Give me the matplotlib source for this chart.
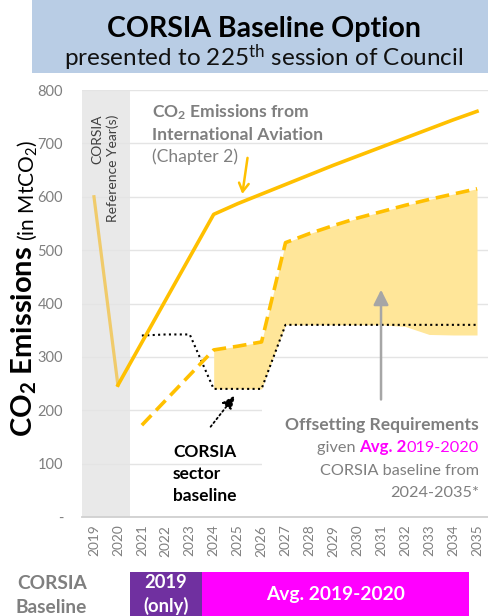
import matplotlib
matplotlib.use('Agg')
import matplotlib.pyplot as plt
from matplotlib.patches import Rectangle

plt.rcParams['font.family'] = ['Lato', 'DejaVu Sans']
plt.rcParams['mathtext.fontset'] = 'custom'
plt.rcParams['mathtext.rm'] = 'Lato'
plt.rcParams['mathtext.it'] = 'Lato:italic'
plt.rcParams['mathtext.bf'] = 'Lato:bold'

# ---------------- data ----------------
years = list(range(2019, 2036))
year_labels = [str(y) for y in years]
y_ticks = [0, 100, 200, 300, 400, 500, 600, 700, 800]
y_tick_labels = ['-', '100', '200', '300', '400', '500', '600', '700', '800']

ref_years = [2019, 2020]
ref_co2 = [600, 247]

aviation_years = [2020, 2024, 2025, 2026, 2027, 2028, 2029, 2030, 2031, 2032, 2033, 2034, 2035]
aviation_co2 = [247, 567, 587, 605, 623, 641, 659, 676, 693, 710, 727, 744, 760]

offset_years = [2021, 2024, 2025, 2026, 2027, 2028, 2029, 2030, 2031, 2032, 2033, 2034, 2035]
offset_co2 = [172, 313, 320, 328, 514, 531, 546, 560, 572, 584, 595, 605, 615]

sector_years = [2021, 2022, 2023, 2024, 2025, 2026, 2027, 2028, 2029, 2030, 2031, 2032, 2033, 2034, 2035]
sector_co2 = [340, 342, 342, 240, 240, 240, 360, 360, 360, 360, 360, 360, 360, 360, 360]

fill_years = [2024, 2025, 2026, 2027, 2028, 2029, 2030, 2031, 2032, 2033, 2034, 2035]
fill_upper = offset_co2[1:]
fill_lower = [240, 240, 240, 360, 360, 360, 360, 360, 357, 342, 341, 341]

band_spans = [(2020.5, 2023.5), (2023.5, 2034.65)]
band_colors = ['#7030A0', '#FF00FF']

# ---------------- figure ----------------
W, H = 489, 616
fig = plt.figure(figsize=(W / 100, H / 100), dpi=100)


def fx(px):
    return px / W


def fy(py):
    return 1 - py / H


GOLD = '#FFC000'
GRAY = '#7F7F7F'
MAG = '#FF00FF'

# title box
fig.patches.append(Rectangle((fx(32), fy(73)), fx(497) - fx(32), 73 / H,
                             transform=fig.transFigure, facecolor='#B9CDE5',
                             edgecolor='none', zorder=0))
fig.text(fx(264), fy(37), 'CORSIA Baseline Option', ha='center', va='baseline',
         fontsize=20.5, fontweight='bold', color='black')
fig.text(fx(264), fy(66), r'presented to 225$^{\mathrm{th}}$ session of Council',
         ha='center', va='baseline', fontsize=17.5, color='#111111')

# main axes
ax = fig.add_axes([fx(82), fy(517), fx(489) - fx(82), 427 / H])
ax.set_xlim(2018.5, 2035.5)
ax.set_ylim(0, 800)
ax.axvspan(2018.5, 2020.5, color='#E9E9E9', lw=0, zorder=0)
ax.set_axisbelow(True)
ax.yaxis.grid(True, color='#E4E4E4', lw=1.0)
ax.set_yticks(y_ticks)
ax.set_yticklabels(y_tick_labels)
ax.set_xticks(years)
ax.set_xticklabels(year_labels, rotation=90)
ax.tick_params(axis='y', length=0, pad=13.5, labelsize=10.5, labelcolor=GRAY)
ax.tick_params(axis='x', length=0, pad=5.5, labelsize=9.8, labelcolor=GRAY)
for s in ['top', 'right', 'left']:
    ax.spines[s].set_visible(False)
ax.spines['bottom'].set_color('#D0D0D0')
ax.spines['bottom'].set_linewidth(1.3)

# white area behind the offsetting text
ax.add_patch(Rectangle((2026.02, 6), 9.5, 208, facecolor='white', edgecolor='none', zorder=1))

ax.fill_between(fill_years, fill_lower, fill_upper, color='#FFE699', lw=0, zorder=2)
ax.plot(sector_years, sector_co2, color='black', lw=1.5, ls=(0, (1, 1.6)), zorder=3)
ax.plot(offset_years, offset_co2, color=GOLD, lw=2.6, ls=(0, (3.8, 1.9)), zorder=4)
ax.plot(ref_years, ref_co2, color='#F0CB6B', lw=2.3, zorder=4)
ax.plot(aviation_years, aviation_co2, color=GOLD, lw=2.6, zorder=5)

# arrows
ax.annotate('', xy=(2025.18, 600), xytext=(2025.43, 678),
            arrowprops=dict(arrowstyle='->,head_length=0.6,head_width=0.35',
                            color=GOLD, lw=1.8), zorder=6)
ax.annotate('', xy=(2024.97, 232), xytext=(2023.80, 165),
            arrowprops=dict(arrowstyle='-|>,head_length=0.8,head_width=0.35',
                            color='black', lw=1.3, ls=':'), zorder=6)
ax.annotate('', xy=(2030.99, 431), xytext=(2030.99, 215),
            arrowprops=dict(arrowstyle='-|>,head_length=0.9,head_width=0.45',
                            color='#A6A6A6', lw=1.8), zorder=6)

# reference year text
ax.text(2019.15, 754, 'CORSIA', rotation=90, ha='center', va='top', fontsize=10, color='#404040')
ax.text(2019.78, 754, 'Reference Year(s)', rotation=90, ha='center', va='top', fontsize=10,
        color='#404040')

# annotation: aviation emissions
fig.text(fx(152), fy(117), r'CO$_\mathbf{2}$ Emissions from', fontsize=12.6, fontweight='bold',
         color=GRAY, va='baseline', ha='left')
fig.text(fx(152), fy(140), 'International Aviation', fontsize=12.6, fontweight='bold',
         color=GRAY, va='baseline', ha='left')
fig.text(fx(152), fy(162), '(Chapter 2)', fontsize=12.6, color=GRAY, va='baseline', ha='left')

# annotation: sector baseline
for txt, by in zip(['CORSIA', 'sector', 'baseline'], [457, 479, 501]):
    fig.text(fx(173), fy(by), txt, fontsize=12.5, fontweight='bold', color='black',
             va='baseline', ha='left')

# annotation: offsetting
fig.text(fx(479), fy(430), 'Offsetting Requirements', fontsize=12.6, fontweight='bold',
         color=GRAY, ha='right', va='baseline')
t_c = fig.text(fx(479), fy(452), '019-2020', fontsize=11.7, color=MAG, ha='right', va='baseline')
t_b = ax.annotate('Avg. 2', xy=(0, 0), xycoords=t_c, fontsize=12.2, fontweight='bold', color=MAG,
                  ha='right', va='bottom')
ax.annotate('given ', xy=(0, 0), xycoords=t_b, fontsize=11.7, color=GRAY, ha='right', va='bottom')
fig.text(fx(479), fy(475), 'CORSIA baseline from', fontsize=11.7, color=GRAY, ha='right', va='baseline')
fig.text(fx(479), fy(497), '2024-2035*', fontsize=11.7, color=GRAY, ha='right', va='baseline')

# y label
t1 = fig.text(fx(39), fy(437), r'CO$_\mathbf{2}$ Emissions', rotation=90, ha='right', va='bottom',
              fontsize=21, fontweight='bold', color='black')
ax.annotate(r' (in MtCO$_2$)', xy=(1, 1), xycoords=t1, rotation=90, ha='right', va='bottom',
            fontsize=15, color='black')

# bottom band
bax = fig.add_axes([fx(82), 0, fx(489) - fx(82), 44 / H])
bax.set_xlim(2018.5, 2035.5)
bax.set_ylim(0, 1)
bax.axis('off')
for (x0, x1), c in zip(band_spans, band_colors):
    bax.add_patch(Rectangle((x0, 0), x1 - x0, 1, facecolor=c, edgecolor='none'))
(p0, p1), (m0, m1) = band_spans
bax.text((p0 + p1) / 2, fy(588) * H / 44, '2019', ha='center', va='baseline', color='white',
         fontsize=13.2, fontweight='bold')
bax.text((p0 + p1) / 2, fy(612) * H / 44, '(only)', ha='center', va='baseline', color='white',
         fontsize=13.2, fontweight='bold')
bax.text((m0 + m1) / 2, fy(600) * H / 44, 'Avg. 2019-2020', ha='center', va='baseline',
         color='white', fontsize=13.8, fontweight='bold')
fig.text(fx(87), fy(589), 'CORSIA', ha='right', va='baseline', fontsize=13.8,
         fontweight='bold', color=GRAY)
fig.text(fx(87), fy(613), 'Baseline', ha='right', va='baseline', fontsize=13.8,
         fontweight='bold', color=GRAY)

fig.savefig('out.png', dpi=100)
